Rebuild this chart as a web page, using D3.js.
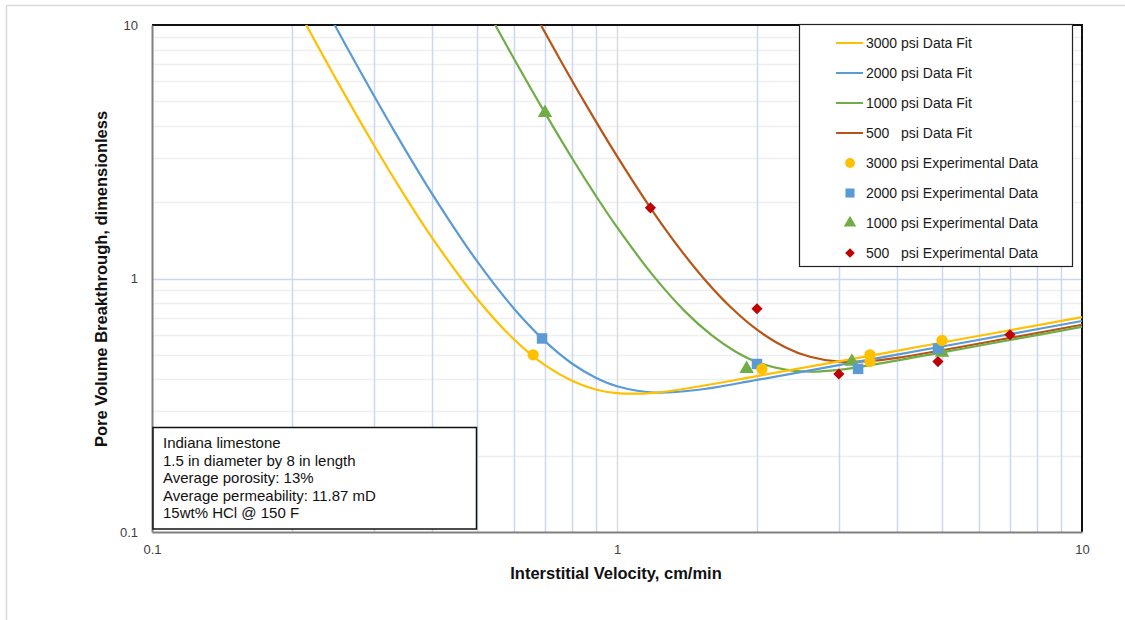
<!DOCTYPE html>
<html>
<head>
<meta charset="utf-8">
<script src="https://cdn.jsdelivr.net/npm/d3@7"></script>
<style>
  html, body { margin: 0; padding: 0; background: #fff; }
  svg { display: block; font-family: "Liberation Sans", Arial, sans-serif; }
  text { white-space: pre; }
</style>
</head>
<body>
<svg id="chart" width="1125" height="620"></svg>
<script>
// Tick labels on both log axes
const xTickLabels = ["0.1", "1", "10"];
const yTickLabels = ["0.1", "1", "10"];

// Series names
const fitNames = ["3000 psi Data Fit", "2000 psi Data Fit", "1000 psi Data Fit", "500   psi Data Fit"];
const expNames = ["3000 psi Experimental Data", "2000 psi Experimental Data", "1000 psi Experimental Data", "500   psi Experimental Data"];

// Data fit curves: interstitial velocity (cm/min) vs. pore volumes to breakthrough
const fit3000V  = [0.21, 0.25, 0.3, 0.35, 0.4, 0.5, 0.6, 0.7, 0.8, 0.9, 1.0, 1.2, 1.5, 2, 3, 5, 7, 10];
const fit3000PV = [10.77, 6.02, 3.364, 2.113, 1.45, 0.832, 0.576, 0.455, 0.395, 0.365, 0.353, 0.354, 0.375, 0.412, 0.471, 0.559, 0.625, 0.704];

const fit2000V  = [0.24, 0.28, 0.33, 0.4, 0.5, 0.6, 0.7, 0.8, 0.9, 1.0, 1.2, 1.5, 2, 3, 5, 7, 10];
const fit2000PV = [11.03, 6.595, 3.884, 2.162, 1.17, 0.762, 0.566, 0.462, 0.406, 0.376, 0.355, 0.364, 0.398, 0.455, 0.539, 0.603, 0.680];

const fit1000V  = [0.53, 0.6, 0.7, 0.8, 0.9, 1.0, 1.2, 1.4, 1.6, 1.8, 2.0, 2.3, 2.6, 3.0, 3.5, 5, 7, 10];
const fit1000PV = [11.13, 7.374, 4.5, 2.989, 2.124, 1.593, 1.019, 0.742, 0.596, 0.514, 0.468, 0.437, 0.429, 0.436, 0.455, 0.511, 0.572, 0.644];

const fit500V  = [0.67, 0.75, 0.85, 1.0, 1.18, 1.35, 1.55, 1.75, 2.0, 2.3, 2.6, 3.0, 3.5, 4.0, 5, 7, 10];
const fit500PV = [10.8, 7.445, 4.985, 3.037, 1.9, 1.345, 0.982, 0.775, 0.628, 0.536, 0.491, 0.470, 0.472, 0.486, 0.521, 0.583, 0.657];

// Experimental measurements
const exp3000V  = [0.66, 2.05, 3.5, 3.5, 5.0];
const exp3000PV = [0.50, 0.44, 0.50, 0.47, 0.57];

const exp2000V  = [0.69, 2.0, 3.3, 4.9];
const exp2000PV = [0.58, 0.46, 0.44, 0.53];

const exp1000V  = [0.70, 1.9, 3.2, 5.0];
const exp1000PV = [4.5, 0.44, 0.47, 0.51];

const exp500V  = [1.18, 2.0, 3.0, 4.9, 7.0];
const exp500PV = [1.9, 0.76, 0.42, 0.47, 0.60];

// Sample description
const noteLines = [
  "Indiana limestone",
  "1.5 in diameter by 8 in length",
  "Average porosity: 13%",
  "Average permeability: 11.87 mD",
  "15wt% HCl @ 150 F"
];

const colors = ["#FFC000", "#5B9BD5", "#70AD47", "#B85416"];
const markerColors = ["#FFC000", "#5B9BD5", "#70AD47", "#C00000"];

const svg = d3.select("#chart");
const pLeft = 152, pRight = 1082, pTop = 25, pBottom = 532;

const x = d3.scaleLog().domain([0.1, 10]).range([pLeft, pRight]);
const y = d3.scaleLog().domain([0.1, 10]).range([pBottom, pTop]);

// Outer chart frame
svg.append("rect").attr("x", 6.5).attr("y", 5.5).attr("width", 1130).attr("height", 630)
  .attr("fill", "#fff").attr("stroke", "#d9d9d9").attr("stroke-width", 1.5);

// Gridlines
const minorVals = [];
[0.1, 1].forEach(d => { for (let k = 2; k <= 9; k++) minorVals.push(+(d * k).toFixed(2)); });

const grid = svg.append("g");
// horizontal minor
grid.selectAll(".hmin").data(minorVals).enter().append("line")
  .attr("x1", pLeft).attr("x2", pRight)
  .attr("y1", d => Math.round(y(d)) + 0.5).attr("y2", d => Math.round(y(d)) + 0.5)
  .attr("stroke", "#efefef").attr("stroke-width", 1.5);
// vertical minor
grid.selectAll(".vmin").data(minorVals).enter().append("line")
  .attr("y1", pTop).attr("y2", pBottom)
  .attr("x1", d => Math.round(x(d)) + 0.5).attr("x2", d => Math.round(x(d)) + 0.5)
  .attr("stroke", "#cbd8ee").attr("stroke-width", 1.5);
// vertical major at 1
grid.append("line").attr("y1", pTop).attr("y2", pBottom)
  .attr("x1", Math.round(x(1)) + 0.5).attr("x2", Math.round(x(1)) + 0.5)
  .attr("stroke", "#dcdcdc").attr("stroke-width", 1.5);
// horizontal major at 1
grid.append("line").attr("x1", pLeft).attr("x2", pRight)
  .attr("y1", Math.round(y(1)) + 0.5).attr("y2", Math.round(y(1)) + 0.5)
  .attr("stroke", "#c9d7ee").attr("stroke-width", 1.5);

// Plot border
svg.append("line").attr("x1", pLeft).attr("x2", pRight + 1).attr("y1", pTop).attr("y2", pTop)
  .attr("stroke", "#111").attr("stroke-width", 2);
svg.append("line").attr("x1", pRight).attr("x2", pRight).attr("y1", pTop).attr("y2", pBottom)
  .attr("stroke", "#111").attr("stroke-width", 2);

// Axes (no tick marks, only labels)
const xAxis = d3.axisBottom(x).tickValues([0.1, 1, 10]).tickSize(0).tickPadding(13)
  .tickFormat((d, i) => xTickLabels[i]);
const yAxis = d3.axisLeft(y).tickValues([0.1, 1, 10]).tickSize(0).tickPadding(14)
  .tickFormat((d, i) => yTickLabels[i]);

const gx = svg.append("g").attr("transform", `translate(0,${pBottom})`).call(xAxis);
const gy = svg.append("g").attr("transform", `translate(${pLeft},0)`).call(yAxis);
[gx, gy].forEach(g => {
  g.select(".domain").attr("stroke", "#808080").attr("stroke-width", 2);
  g.selectAll("text").attr("font-family", "Liberation Sans, Arial, sans-serif")
    .attr("font-size", 13).attr("fill", "#404040");
});

// Clip to plot area
svg.append("clipPath").attr("id", "plotclip").append("rect")
  .attr("x", pLeft).attr("y", pTop).attr("width", pRight - pLeft).attr("height", pBottom - pTop);

const plot = svg.append("g").attr("clip-path", "url(#plotclip)");

const fits = [
  [fit3000V, fit3000PV], [fit2000V, fit2000PV], [fit1000V, fit1000PV], [fit500V, fit500PV]
];
const line = d3.line().x(d => x(d[0])).y(d => y(d[1])).curve(d3.curveCatmullRom.alpha(0.5));

// draw order: 500, 1000, 2000, 3000 so 3000 is on top
[3, 2, 1, 0].forEach(i => {
  const pts = fits[i][0].map((v, j) => [v, fits[i][1][j]]);
  plot.append("path").datum(pts).attr("d", line)
    .attr("fill", "none").attr("stroke", colors[i]).attr("stroke-width", 2.2);
});

// Marker symbols (diamond = square turned 45 degrees)
const symbols = [d3.symbolCircle, d3.symbolSquare, d3.symbolTriangle, d3.symbolSquare];
const symRot = [0, 0, 0, 45];
const symSizes = [100, 110, 90, 62];
const exps = [
  [exp3000V, exp3000PV], [exp2000V, exp2000PV], [exp1000V, exp1000PV], [exp500V, exp500PV]
];
[3, 2, 1, 0].forEach(i => {
  const pts = exps[i][0].map((v, j) => [v, exps[i][1][j]]);
  plot.selectAll(null).data(pts).enter().append("path")
    .attr("d", d3.symbol().type(symbols[i]).size(symSizes[i]))
    .attr("transform", d => `translate(${x(d[0])},${y(d[1])}) rotate(${symRot[i]})`)
    .attr("fill", markerColors[i]);
});

// Legend
const lg = svg.append("g");
lg.append("rect").attr("x", 799.5).attr("y", 24.5).attr("width", 273).attr("height", 242)
  .attr("fill", "#fff").attr("stroke", "#222").attr("stroke-width", 1.2);
const rowY = i => 43 + i * 30;
fitNames.forEach((name, i) => {
  lg.append("line").attr("x1", 836).attr("x2", 863).attr("y1", rowY(i)).attr("y2", rowY(i))
    .attr("stroke", colors[i]).attr("stroke-width", 2);
  lg.append("text").attr("x", 866).attr("y", rowY(i)).attr("dy", "0.35em")
    .attr("font-size", 14).attr("fill", "#1a1a1a").text(name);
});
expNames.forEach((name, i) => {
  const r = i + 4;
  lg.append("path").attr("d", d3.symbol().type(symbols[i]).size(symSizes[i] * 0.75))
    .attr("transform", `translate(850,${rowY(r)}) rotate(${symRot[i]})`).attr("fill", markerColors[i]);
  lg.append("text").attr("x", 866).attr("y", rowY(r)).attr("dy", "0.35em")
    .attr("font-size", 14).attr("fill", "#1a1a1a").text(name);
});

// Sample info box
const nb = svg.append("g");
nb.append("rect").attr("x", 153).attr("y", 427.5).attr("width", 323.5).attr("height", 101.5)
  .attr("fill", "#fff").attr("stroke", "#111").attr("stroke-width", 1.5);
noteLines.forEach((t, i) => {
  nb.append("text").attr("x", 163).attr("y", 443 + i * 17.5).attr("dy", "0.35em")
    .attr("font-size", 15).attr("fill", "#111").text(t);
});

// Axis titles
svg.append("text").attr("x", 616).attr("y", 573).attr("dy", "0.35em").attr("text-anchor", "middle")
  .attr("font-size", 16.5).attr("font-weight", "bold").attr("fill", "#111")
  .text("Interstitial Velocity, cm/min");
svg.append("text").attr("transform", "translate(101,279) rotate(-90)").attr("dy", "0.35em")
  .attr("text-anchor", "middle").attr("font-size", 16.5).attr("font-weight", "bold").attr("fill", "#111")
  .text("Pore Volume Breakthrough, dimensionless");
</script>
</body>
</html>
